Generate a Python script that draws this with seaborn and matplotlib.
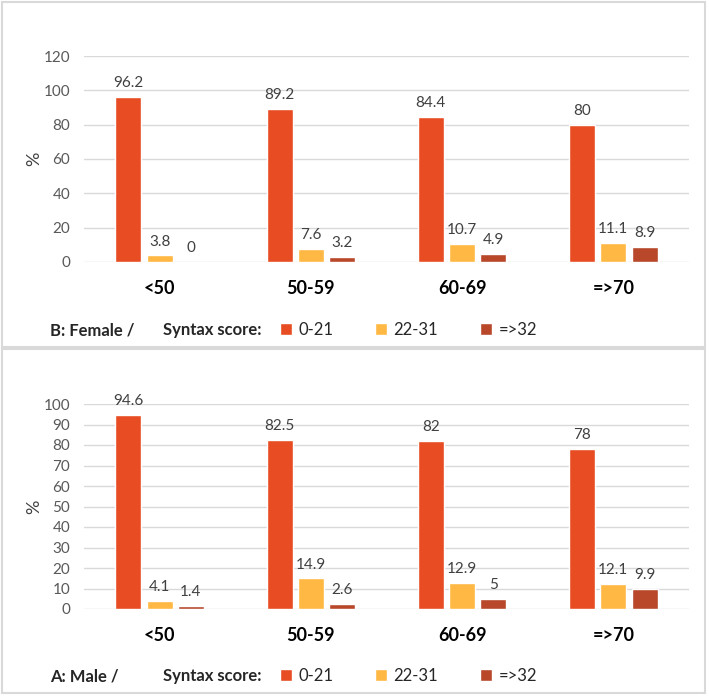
import pandas as pd
import matplotlib.pyplot as plt
import seaborn as sns
from matplotlib.patches import Rectangle

# Datos
age_groups = ['<50', '50-59', '60-69', '=>70']
score_groups = ['0-21', '22-31', '=>32']
female_0_21 = [96.2, 89.2, 84.4, 80]
female_22_31 = [3.8, 7.6, 10.7, 11.1]
female_32 = [0, 3.2, 4.9, 8.9]
male_0_21 = [94.6, 82.5, 82, 78]
male_22_31 = [4.1, 14.9, 12.9, 12.1]
male_32 = [1.4, 2.6, 5, 9.9]

colors = ['#E84C22', '#FFB843', '#B9472A']


def long_table(a, b, c):
    rows = []
    for serie, vals in zip(score_groups, [a, b, c]):
        for age, v in zip(age_groups, vals):
            rows.append({'age': age, 'score': serie, 'pct': v})
    return pd.DataFrame(rows)


sns.set_theme(style='white')
plt.rcParams['font.family'] = ['Lato', 'DejaVu Sans']

W, H = 709, 696
fig = plt.figure(figsize=(W / 100, H / 100), dpi=100)

# Marcos de los paneles
for (y0, y1) in [(2, 347), (349, 693)]:
    fig.patches.append(Rectangle((2 / W, 1 - y1 / H), 703 / W, (y1 - y0) / H,
                                 transform=fig.transFigure, fill=False,
                                 edgecolor='#D9D9D9', lw=1.5))

panels = [
    # (datos, y0 px, y1 px, ymax, paso, etiqueta, y leyenda)
    (long_table(female_0_21, female_22_31, female_32), 56, 262, 120, 20, 'B: Female /', 330),
    (long_table(male_0_21, male_22_31, male_32), 404, 609, 100, 10, 'A: Male /', 676),
]

for df, ytop, ybot, ymax, step, tag, yleg in panels:
    ax = fig.add_axes([84 / W, 1 - ybot / H, 605 / W, (ybot - ytop) / H])
    sns.barplot(data=df, x='age', y='pct', hue='score', palette=colors,
                width=0.62, gap=0.17, ax=ax, saturation=1)
    ax.set_ylim(0, ymax)
    ax.set_yticks(range(0, ymax + 1, step))
    ax.set_xlim(-0.5, 3.5)
    ax.yaxis.grid(True, color='#D9D9D9', lw=1)
    ax.set_axisbelow(True)
    for s in ax.spines.values():
        s.set_visible(False)
    ax.tick_params(axis='y', length=0, pad=10, labelsize=11, labelcolor='#595959')
    ax.tick_params(axis='x', length=0, pad=13, labelsize=13)
    for t in ax.get_xticklabels():
        t.set_fontweight('bold')
        t.set_color('black')
    ax.set_xlabel('')
    ax.set_ylabel('%', fontsize=13, color='#404040', labelpad=1)
    for cont in ax.containers:
        ax.bar_label(cont, fmt='%g', padding=5, fontsize=11, color='#404040')

    handles, labels = ax.get_legend_handles_labels()
    ax.get_legend().remove()

    fig.text(50 / W, 1 - yleg / H, tag, fontsize=12, fontweight='bold', va='center')
    fig.text(163 / W, 1 - yleg / H, 'Syntax score:', fontsize=12, fontweight='bold', va='center')
    fig.legend(handles, labels, ncol=3, frameon=False, loc='center left',
               bbox_to_anchor=(272 / W, 1 - yleg / H), fontsize=12,
               handlelength=0.7, handleheight=0.7, handletextpad=0.4,
               columnspacing=2.5, borderpad=0)

fig.savefig('out.png', dpi=100)
